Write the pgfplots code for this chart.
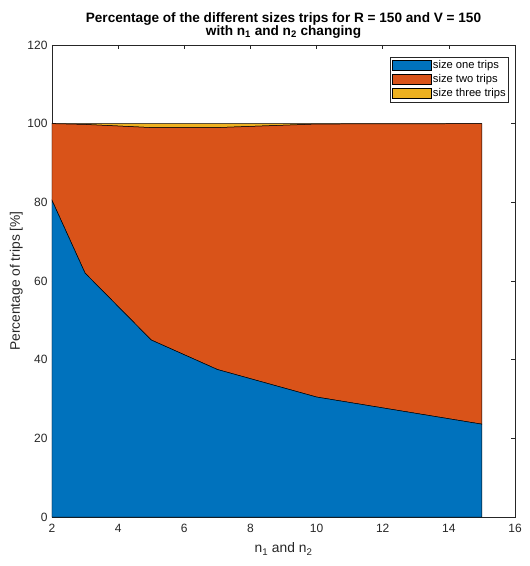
\documentclass[border=0pt]{standalone}
\usepackage{fontspec}
\setmainfont{Liberation Sans}
\usepackage{pgfplots}
\pgfplotsset{compat=1.18}
\usetikzlibrary{calc}
\definecolor{mblue}{rgb}{0,0.447,0.741}
\definecolor{morange}{rgb}{0.85,0.325,0.098}
\definecolor{myellow}{rgb}{0.929,0.694,0.125}
\definecolor{mgray}{rgb}{0.15,0.15,0.15}
\begin{document}
\begin{tikzpicture}
\begin{axis}[
 scale only axis, width=463bp, height=472bp,
 xmin=2, xmax=16, ymin=0, ymax=120,
 xtick={2,4,...,16}, ytick={0,20,...,120},
 tick align=inside, xtick pos=both, ytick pos=both,
 major tick length=4.5bp,
 axis line style={draw=mgray, line width=0.5pt},
 tick style={mgray, line width=0.5pt},
 ticklabel style={font=\fontsize{12bp}{14bp}\selectfont, text=mgray},
 yticklabel style={xshift=-1bp},
 xticklabel style={yshift=-4bp},
 /pgf/number format/assume math mode=true,
 title={Percentage of the different sizes trips for R = 150 and V = 150\\with n\textsubscript{1} and n\textsubscript{2} changing},
 title style={align=center, font=\bfseries\fontsize{13.6bp}{13bp}\selectfont, text=black, yshift=-3bp},
 xlabel={n\textsubscript{1} and n\textsubscript{2}},
 ylabel={Percentage of trips [\%]},
 label style={font=\fontsize{13.8bp}{16bp}\selectfont, text=mgray},
 xlabel style={yshift=-3bp},
 ylabel style={yshift=-2bp},
 stack plots=y,
 legend cell align=left,
 legend style={at={(0.987,0.975)}, anchor=north east, draw=mgray, line width=0.5pt,
   font=\fontsize{11.2bp}{13bp}\selectfont, row sep=0.5bp, inner xsep=1bp, inner ysep=1.5bp},
 legend image code/.code={\draw[#1,draw=black,line width=0.4pt] (0bp,-5bp) rectangle (39bp,5bp);},
]
\addplot[fill=mblue, draw=black, line width=0.5pt] coordinates {(2,80.5)(3,62)(5,45)(7,37.5)(10,30.5)(15,23.6)} \closedcycle;
\addplot[fill=morange, draw=black, line width=0.5pt] coordinates {(2,19.5)(3,37.8)(5,54)(7,61.5)(10,69.4)(15,76.4)} \closedcycle;
\addplot[fill=myellow, draw=black, line width=0.5pt] coordinates {(2,0)(3,0.2)(5,1)(7,1)(10,0.1)(15,0)} \closedcycle;
\legend{size one trips, size two trips, size three trips}
\end{axis}
\pgfresetboundingbox
\path ($(current axis.south west)+(-52bp,-49bp)$) rectangle ($(current axis.north east)+(15bp,45bp)$);
\end{tikzpicture}
\end{document}
